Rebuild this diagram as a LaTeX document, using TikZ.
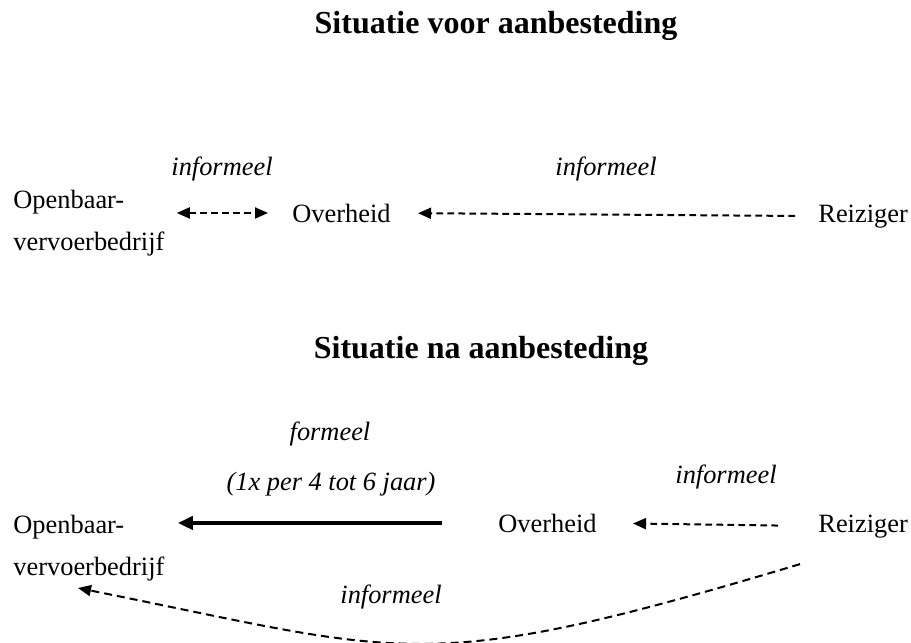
\documentclass[tikz,border=0pt]{standalone}
\usepackage{fontspec}
\setmainfont{Liberation Serif}
\usetikzlibrary{arrows.meta,calc}

\tikzset{
    txt/.style={inner sep=0pt, font=\fontsize{13.2}{21}\selectfont},
    lbl/.style={txt, font=\fontsize{13.2}{21}\selectfont\itshape},
    kop/.style={inner sep=0pt, font=\fontsize{16}{19}\selectfont\bfseries},
    informal/.style={line width=1pt, dash pattern=on 3.3pt off 2.2pt},
    formal/.style={line width=2pt, -{Triangle[length=7.5pt,width=6.5pt]}},
    driehoek/.tip={Triangle[length=6.5pt,width=5.5pt]}
}

\begin{document}
\begin{tikzpicture}[x=0.5pt,y=-0.5pt]
\useasboundingbox (0,0) rectangle (911,643);

% voor aanbesteding
\node [kop,anchor=base] (kop_voor) at (496,33) {Situatie voor aanbesteding};

\node [txt,anchor=base west,align=left] (ovb1) at (13,250) {Openbaar-\\vervoerbedrijf};
\node [txt,anchor=base west] (ov1) at (292,222) {Overheid};
\node [txt,anchor=base west] (rz1) at (818,222) {Reiziger};

\node [lbl,anchor=base] (inf1) at (222,175) {informeel};
\node [lbl,anchor=base] (inf2) at (606,175) {informeel};

\draw [informal,driehoek-driehoek,shorten <=6pt,shorten >=12pt] (ovb1.east |- ov1.west) -- (ov1.west);
\draw [informal,-driehoek,shorten <=11.5pt,shorten >=13.5pt] (rz1.west) -- (ov1.east);

% na aanbesteding
\node [kop,anchor=base] (kop_na) at (481,358) {Situatie na aanbesteding};

\node [txt,anchor=base west,align=left] (ovb2) at (13,575) {Openbaar-\\vervoerbedrijf};
\node [txt,anchor=base west] (ov2) at (498,532) {Overheid};
\node [txt,anchor=base west] (rz2) at (818,532) {Reiziger};

\node [lbl,anchor=base] (formeel) at (330,440) {formeel};
\node [lbl,anchor=base] (termijn) at (331,490) {(1x per 4 tot 6 jaar)};
\node [lbl,anchor=base] (inf3) at (726,483) {informeel};
\node [lbl,anchor=base] (inf4) at (391,603) {informeel};

\draw [formal,shorten <=28pt,shorten >=6.5pt] (ov2.west) -- (ovb2.east |- ov2.west);
\draw [informal,-driehoek,shorten <=20pt,shorten >=18pt] (rz2.west) -- (ov2.east);

\coordinate (crv_a) at ($(rz2.south west)+(-18,26)$);
\coordinate (crv_b) at ($(ovb2.south west)+(65,7)$);
\draw [informal,dash pattern=on 4pt off 2.5pt,-driehoek] (crv_a) .. controls ($(crv_a)+(-380,114)$) and ($(crv_b)+(330,66)$) .. (crv_b);

\end{tikzpicture}
\end{document}
